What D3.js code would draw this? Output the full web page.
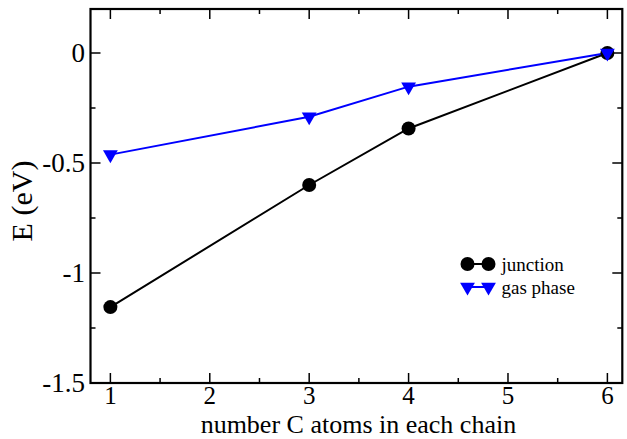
<!DOCTYPE html>
<html>
<head>
<meta charset="utf-8">
<script src="https://cdn.jsdelivr.net/npm/d3@7"></script>
<style>
  html, body { margin: 0; padding: 0; background: #fff; }
  svg { display: block; }
  text { font-family: "Liberation Serif", "Times New Roman", Times, serif; fill: #000; }
</style>
</head>
<body>
<svg id="chart" width="627" height="439"></svg>
<script>
// ---- data ----
const carbonAtoms = [1, 3, 4, 6];
const junction = [-1.155, -0.60, -0.343, 0.0];
const gasPhase = [-0.462, -0.29, -0.153, 0.0];
const xTickLabels = [1, 2, 3, 4, 5, 6];
const yTickLabels = [0, -0.5, -1, -1.5];
const seriesNames = ["junction", "gas phase"];

// ---- layout ----
const svg = d3.select("#chart");
const pLeft = 90.5, pRight = 622.3, pTop = 9, pBottom = 383;

const x = d3.scaleLinear().domain([0.8, 6.15]).range([pLeft, pRight]);
const y = d3.scaleLinear().domain([-1.5, 0.2]).range([pBottom, pTop]);

const majorX = xTickLabels;
const minorX = d3.range(1.5, 6.01, 1);
const majorY = yTickLabels;
const minorY = [-1.25, -0.75, -0.25];

const g = svg.append("g");

// ticks (inward on all sides)
function tickSet(vals, len, sw) {
  vals.forEach(v => {
    g.append("line").attr("x1", x(v)).attr("x2", x(v)).attr("y1", pBottom).attr("y2", pBottom - len)
      .attr("stroke", "#000").attr("stroke-width", sw);
    g.append("line").attr("x1", x(v)).attr("x2", x(v)).attr("y1", pTop).attr("y2", pTop + len)
      .attr("stroke", "#000").attr("stroke-width", sw);
  });
}
function tickSetY(vals, len, sw) {
  vals.forEach(v => {
    g.append("line").attr("y1", y(v)).attr("y2", y(v)).attr("x1", pLeft).attr("x2", pLeft + len)
      .attr("stroke", "#000").attr("stroke-width", sw);
    g.append("line").attr("y1", y(v)).attr("y2", y(v)).attr("x1", pRight).attr("x2", pRight - len)
      .attr("stroke", "#000").attr("stroke-width", sw);
  });
}
tickSet(majorX, 10, 1.5);
tickSet(minorX, 5, 1.5);
tickSetY(majorY, 10, 1.5);
tickSetY(minorY, 5, 1.5);

// frame
g.append("rect").attr("x", pLeft).attr("y", pTop).attr("width", pRight - pLeft).attr("height", pBottom - pTop)
  .attr("fill", "none").attr("stroke", "#000").attr("stroke-width", 2.2);

// tick labels
g.selectAll(".xl").data(xTickLabels).enter().append("text")
  .attr("x", d => x(d)).attr("y", 404).attr("text-anchor", "middle")
  .attr("font-size", 25).text(d => d);
g.selectAll(".yl").data(yTickLabels).enter().append("text")
  .attr("x", 85).attr("y", d => y(d)).attr("dy", "0.34em").attr("text-anchor", "end")
  .attr("font-size", 27).text(d => d);

// axis titles
g.append("text").attr("x", (pLeft + pRight) / 2 + 2).attr("y", 433).attr("text-anchor", "middle")
  .attr("font-size", 26).text("number C atoms in each chain");
g.append("text").attr("transform", "translate(32," + 201 + ") rotate(-90)")
  .attr("text-anchor", "middle").attr("font-size", 30).text("E (eV)");

// series
const line = d3.line().x(d => x(d[0])).y(d => y(d[1]));
const jData = carbonAtoms.map((c, i) => [c, junction[i]]);
const gData = carbonAtoms.map((c, i) => [c, gasPhase[i]]);

const tri = d3.symbol().type(d3.symbolTriangle).size(95);

g.append("path").attr("d", line(jData)).attr("fill", "none").attr("stroke", "#000").attr("stroke-width", 2);
g.append("path").attr("d", line(gData)).attr("fill", "none").attr("stroke", "#0000ff").attr("stroke-width", 2);

g.selectAll(".jc").data(jData).enter().append("circle")
  .attr("cx", d => x(d[0])).attr("cy", d => y(d[1])).attr("r", 7).attr("fill", "#000");
g.selectAll(".gt").data(gData).enter().append("path")
  .attr("d", tri).attr("transform", d => "translate(" + x(d[0]) + "," + y(d[1]) + ") rotate(180)")
  .attr("fill", "#0000ff");

// legend
const lg = g.append("g");
const lx1 = 467.5, lx2 = 488.5, ly1 = 264, ly2 = 287;
lg.append("line").attr("x1", lx1).attr("x2", lx2).attr("y1", ly1).attr("y2", ly1).attr("stroke", "#000").attr("stroke-width", 2);
[lx1, lx2].forEach(px => lg.append("circle").attr("cx", px).attr("cy", ly1).attr("r", 7).attr("fill", "#000"));
lg.append("line").attr("x1", lx1).attr("x2", lx2).attr("y1", ly2).attr("y2", ly2).attr("stroke", "#0000ff").attr("stroke-width", 2);
[lx1, lx2].forEach(px => lg.append("path").attr("d", tri).attr("transform", "translate(" + px + "," + ly2 + ") rotate(180)").attr("fill", "#0000ff"));
lg.append("text").attr("x", 501.5).attr("y", 271).attr("font-size", 19).text(seriesNames[0]);
lg.append("text").attr("x", 501.5).attr("y", 294).attr("font-size", 19).text(seriesNames[1]);
</script>
</body>
</html>
